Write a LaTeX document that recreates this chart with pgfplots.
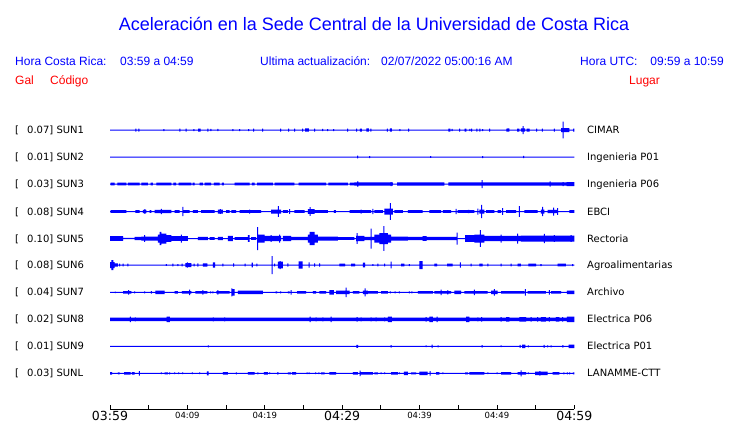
\documentclass[border=0pt]{standalone}
\usepackage{pgfplots}
\pgfplotsset{compat=1.18}
\usepgfplotslibrary{fillbetween}
\usepackage{pgfplotstable}
\usepackage{fontspec}
\setmainfont{Liberation Sans}
\newfontfamily\dejavu{DejaVu Sans}
\definecolor{sblue}{RGB}{0,0,255}
\definecolor{sred}{RGB}{255,0,0}

% half-amplitude envelopes (px) of each trace, t in minutes after 03:59
\pgfplotstableread[row sep=\\]{t a\\
0 0.5\\ 3.27 1.5\\ 3.40 0.5\\ 3.66 1.5\\ 3.79 0.5\\ 6.89 1.0\\ 7.02 0.5\\ 8.95 1.5\\ 9.08 0.5\\ 9.77 1.5\\ 9.90 0.5\\
10.76 1.0\\ 10.89 0.5\\ 11.40 1.5\\ 11.70 0.5\\ 12.57 1.5\\ 12.70 0.5\\ 12.96 1.2\\ 13.09 0.5\\ 13.86 1.2\\ 13.99 0.5\\
15.80 1.0\\ 15.93 0.5\\ 16.70 1.0\\ 16.83 0.5\\ 17.86 1.0\\ 17.99 0.5\\ 18.51 1.5\\ 18.64 0.5\\ 19.67 1.5\\ 19.80 0.5\\
21.99 1.5\\ 22.12 0.5\\ 23.03 1.5\\ 23.16 0.5\\ 23.80 1.5\\ 23.93 0.5\\ 24.83 1.5\\ 24.96 0.5\\ 25.22 1.7\\ 25.70 0.5\\
26.38 1.5\\ 26.51 0.5\\ 27.42 1.2\\ 27.55 0.5\\ 28.06 1.0\\ 28.19 0.5\\ 28.84 1.0\\ 28.97 0.5\\ 30.64 1.5\\ 30.77 0.5\\
31.81 1.5\\ 31.94 0.5\\ 32.28 1.5\\ 32.54 0.5\\ 33.14 1.7\\ 33.44 0.5\\ 33.66 1.5\\ 33.79 0.5\\ 35.77 1.5\\ 35.90 0.5\\
36.15 1.7\\ 36.41 0.5\\ 37.40 1.0\\ 37.53 0.5\\ 38.52 1.5\\ 38.65 0.5\\ 43.73 1.5\\ 43.99 0.5\\ 44.16 1.2\\ 44.29 0.5\\
45.11 1.5\\ 45.24 0.5\\ 45.84 1.5\\ 46.05 0.5\\ 46.44 1.2\\ 46.57 0.5\\ 46.66 1.5\\ 46.79 0.5\\ 47.34 1.5\\ 47.47 0.5\\
47.73 1.5\\ 47.86 0.5\\ 48.08 1.0\\ 48.21 0.5\\ 48.98 1.5\\ 49.11 0.5\\ 51.22 1.5\\ 51.35 1.7\\ 51.61 0.5\\
52.60 1.5\\ 52.90 0.5\\ 53.11 1.7\\ 53.31 4.0\\ 53.44 1.7\\ 53.63 0.5\\ 53.84 1.5\\ 54.23 0.5\\ 55.05 1.5\\ 55.18 0.5\\
55.82 1.5\\ 55.95 0.5\\ 57.37 1.5\\ 57.50 0.5\\ 58.28 2.0\\ 58.50 8.3\\ 58.63 2.0\\ 59.35 0.5\\ 59.85 1.5\\ 60 1.5\\
}\TA
\pgfplotstableread[row sep=\\]{t a\\
0 0.5\\ 31.94 1.3\\ 32.07 0.5\\ 33.49 1.0\\ 33.62 0.5\\ 41.36 0.8\\ 41.49 0.5\\ 48.08 1.0\\ 48.21 0.5\\ 53.37 1.2\\ 53.50 0.5\\ 60 0.5\\
}\TB
\pgfplotstableread[row sep=\\]{t a\\
0 0.5\\ 0.09 1.3\\ 0.60 0.5\\ 0.95 1.3\\ 2.11 0.5\\ 2.32 1.3\\ 3.83 0.5\\ 4.05 1.3\\ 4.91 0.5\\ 5.25 1.3\\ 5.55 0.5\\
5.98 1.3\\ 7.92 0.5\\ 8.18 1.3\\ 8.56 0.5\\ 8.87 1.3\\ 10.50 0.5\\ 10.67 1.3\\ 10.93 0.5\\ 11.58 1.3\\ 12.01 0.5\\
12.22 1.3\\ 13.08 0.5\\ 13.43 1.3\\ 14.16 0.5\\ 14.46 1.3\\ 14.72 0.5\\ 16.10 1.3\\ 18.03 0.5\\ 18.34 1.3\\ 18.68 0.5\\
19.02 1.3\\ 21.05 0.5\\ 21.26 1.3\\ 23.84 0.5\\ 24.36 1.3\\ 27.93 0.5\\ 28.23 1.3\\ 30.73 0.5\\ 30.99 1.3\\ 31.59 1.6\\
31.95 2.7\\ 32.08 1.6\\ 36.25 2.0\\ 36.38 1.6\\ 36.54 0.5\\ 37.11 1.6\\ 43.21 0.5\\ 43.73 1.6\\ 48.03 4.0\\ 48.16 1.6\\
56.81 2.7\\ 56.94 1.6\\ 58.50 2.0\\ 58.63 1.6\\ 59.00 2.0\\ 60 2.0\\
}\TC
\pgfplotstableread[row sep=\\]{t a\\
0 0.5\\ 0.09 1.3\\ 2.11 0.5\\ 3.27 1.3\\ 3.83 0.5\\ 4.26 1.7\\ 4.43 2.3\\ 4.56 1.7\\ 4.69 0.5\\ 5.12 1.3\\ 5.34 0.5\\
5.77 1.7\\ 6.57 2.7\\ 6.70 1.7\\ 7.92 0.5\\ 8.35 1.3\\ 9.00 0.5\\ 9.34 4.7\\ 9.47 1.3\\ 10.29 0.5\\ 10.72 1.3\\ 11.36 0.5\\
11.79 1.3\\ 13.51 0.5\\ 13.94 2.0\\ 14.20 2.3\\ 14.33 2.0\\ 14.59 0.5\\ 15.02 1.3\\ 15.45 0.5\\ 15.67 1.3\\ 16.31 0.5\\
16.74 1.3\\ 17.97 2.0\\ 18.10 1.3\\ 19.54 0.5\\ 20.83 2.0\\ 21.68 5.3\\ 21.81 2.0\\ 22.12 0.5\\ 22.34 1.3\\ 22.98 0.5\\
23.14 2.3\\ 23.27 0.5\\ 23.84 1.3\\ 25.14 0.5\\ 25.57 2.3\\ 25.81 4.3\\ 25.94 2.3\\ 26.43 1.3\\ 28.15 0.5\\
28.92 1.3\\ 29.18 0.5\\ 30.95 1.3\\ 32.39 2.0\\ 32.52 1.3\\ 33.74 0.5\\ 33.90 2.7\\ 34.03 0.5\\ 34.17 1.3\\ 35.25 0.5\\
35.47 3.0\\ 36.18 8.3\\ 36.31 3.0\\ 36.54 0.5\\ 36.76 1.3\\ 37.83 0.5\\ 38.48 1.3\\ 40.41 0.5\\ 41.28 1.3\\ 42.78 0.5\\
43.00 1.3\\ 44.07 0.5\\ 44.66 2.7\\ 44.79 0.5\\ 44.93 1.3\\ 46.24 1.7\\ 46.45 1.3\\ 47.09 0.5\\ 47.46 3.0\\ 47.59 0.5\\
47.73 2.0\\ 47.97 6.7\\ 48.10 2.0\\ 48.38 0.5\\ 48.59 1.3\\ 49.67 0.5\\ 50.10 1.3\\ 50.53 0.5\\ 50.68 3.3\\ 50.81 0.5\\
51.18 1.3\\ 52.47 0.5\\ 52.84 5.3\\ 52.97 0.5\\ 53.54 1.3\\ 55.26 0.5\\ 55.69 2.0\\ 55.85 4.7\\ 55.98 2.0\\ 56.12 0.5\\
56.55 1.7\\ 57.27 4.0\\ 57.40 1.7\\ 57.79 3.3\\ 57.92 0.5\\ 59.35 1.3\\ 60 1.3\\
}\TD
\pgfplotstableread[row sep=\\]{t a\\
0 2.3\\ 1.68 0.7\\ 3.18 1.7\\ 4.05 2.0\\ 4.42 3.3\\ 4.55 2.0\\ 6.20 4.0\\ 6.41 6.7\\ 6.63 5.0\\ 7.27 3.3\\
7.92 2.3\\ 9.15 4.0\\ 9.28 2.3\\ 10.07 0.5\\ 11.36 1.7\\ 12.65 0.5\\ 12.87 1.3\\ 13.51 0.5\\ 13.94 1.7\\ 14.59 0.5\\
15.24 2.7\\ 15.88 0.5\\ 16.10 1.3\\ 17.82 3.3\\ 18.03 0.5\\ 18.25 1.3\\ 18.89 0.5\\ 19.00 11.5\\ 19.13 4.0\\ 19.97 2.7\\
20.77 3.3\\ 20.90 2.7\\ 21.85 4.0\\ 21.98 2.7\\ 22.12 0.5\\ 22.34 2.7\\ 23.41 1.7\\ 25.57 4.0\\ 25.78 6.7\\ 26.43 4.0\\
26.86 2.0\\ 29.44 1.3\\ 31.59 0.5\\ 31.81 2.7\\ 31.88 5.3\\ 32.01 2.7\\ 32.88 1.7\\ 33.68 10.0\\ 33.81 1.7\\
34.17 4.0\\ 34.82 5.5\\ 35.32 12.3\\ 35.45 5.5\\ 35.90 4.0\\ 36.33 2.0\\ 38.48 1.7\\ 40.40 2.3\\ 40.90 1.7\\
44.79 6.0\\ 44.92 0.5\\ 45.88 3.3\\ 47.09 4.0\\ 47.80 8.3\\ 47.93 4.0\\ 48.38 2.7\\ 50.47 4.0\\ 50.60 2.7\\
52.62 5.0\\ 52.75 2.7\\ 53.11 3.0\\ 56.06 4.7\\ 56.19 3.0\\ 57.36 3.3\\ 57.49 3.0\\ 59.51 3.3\\ 59.64 3.0\\ 60 3.0\\
}\TE
\pgfplotstableread[row sep=\\]{t a\\
0 3.0\\ 0.17 5.0\\ 0.43 3.0\\ 0.60 1.7\\ 1.03 0.5\\ 1.19 1.3\\ 1.32 0.5\\ 1.62 1.3\\ 1.75 0.5\\ 2.26 1.3\\ 2.39 0.5\\
7.21 0.8\\ 7.34 0.5\\ 8.07 1.3\\ 8.20 0.5\\ 8.72 1.0\\ 8.85 0.5\\ 9.24 1.3\\ 9.37 0.5\\ 9.73 2.0\\ 9.93 2.7\\ 10.06 2.0\\ 10.50 0.5\\
10.79 1.3\\ 10.92 0.5\\ 11.30 1.7\\ 11.43 0.5\\ 12.01 1.7\\ 12.57 0.5\\ 13.30 2.7\\ 13.60 0.5\\ 14.53 1.3\\ 14.66 0.5\\
15.91 1.7\\ 16.04 0.5\\ 17.41 1.3\\ 17.54 0.5\\ 18.30 2.3\\ 18.46 0.5\\ 18.92 1.3\\ 19.05 0.5\\ 20.90 9.0\\ 21.03 0.5\\
21.20 1.3\\ 21.33 0.5\\ 21.69 3.3\\ 21.93 4.0\\ 22.06 3.3\\ 22.34 0.5\\ 22.92 1.7\\ 23.05 0.5\\ 24.36 3.7\\ 24.88 0.5\\
25.68 2.7\\ 25.81 0.5\\ 26.37 1.7\\ 26.50 0.5\\ 27.01 1.7\\ 27.14 0.5\\ 29.65 1.3\\ 30.39 0.5\\ 31.16 1.3\\ 31.68 0.5\\
32.67 2.3\\ 32.97 0.5\\ 33.90 0.8\\ 34.03 0.5\\ 34.54 1.3\\ 34.67 0.5\\ 35.41 1.3\\ 35.54 0.5\\ 36.27 3.3\\ 36.40 0.5\\
37.62 1.3\\ 38.05 0.5\\ 38.63 1.0\\ 38.76 0.5\\ 39.98 4.0\\ 40.41 0.5\\ 41.92 1.3\\ 42.26 0.5\\ 43.56 1.3\\ 44.29 0.5\\
45.22 2.7\\ 45.35 0.5\\ 46.60 1.3\\ 46.73 0.5\\ 47.73 1.3\\ 48.16 0.5\\ 48.75 1.3\\ 48.88 0.5\\ 50.47 1.3\\ 50.60 0.5\\
51.76 1.3\\ 51.89 0.5\\ 52.68 1.3\\ 53.11 0.5\\ 54.06 1.3\\ 55.05 0.5\\ 55.63 1.0\\ 55.76 0.5\\ 57.85 1.3\\ 58.92 0.5\\
59.72 1.0\\ 59.85 0.5\\ 60 0.5\\
}\TF
\pgfplotstableread[row sep=\\]{t a\\
0 0.5\\ 0.63 0.8\\ 0.76 0.5\\ 1.68 1.3\\ 2.35 2.3\\ 2.48 1.3\\ 2.75 0.5\\ 3.12 1.0\\ 3.25 0.5\\ 4.42 1.0\\ 4.55 0.5\\
5.28 1.3\\ 5.41 0.5\\ 5.85 1.7\\ 7.06 0.5\\ 8.35 1.3\\ 8.78 0.5\\ 9.30 1.3\\ 10.23 2.7\\ 10.36 1.3\\ 10.50 0.5\\
11.02 1.3\\ 11.95 2.3\\ 12.08 1.3\\ 12.57 0.5\\ 12.94 1.0\\ 13.07 0.5\\ 13.24 1.0\\ 13.37 0.5\\ 13.73 1.3\\ 13.88 2.3\\
14.01 1.3\\ 15.45 0.5\\ 15.67 3.3\\ 15.69 4.0\\ 15.82 3.3\\ 16.10 0.5\\ 16.53 1.7\\ 19.75 0.5\\ 21.39 1.0\\ 21.61 0.5\\
21.98 1.0\\ 22.11 0.5\\ 22.98 1.0\\ 23.20 0.5\\ 23.35 2.3\\ 23.48 0.5\\ 24.19 1.3\\ 25.35 0.5\\ 26.21 1.3\\ 26.64 0.5\\
27.07 1.3\\ 27.93 0.5\\ 28.36 2.3\\ 28.92 0.5\\ 29.22 1.7\\ 30.46 4.7\\ 30.59 1.7\\ 30.95 0.5\\ 31.38 1.3\\ 32.24 0.5\\
32.67 1.7\\ 32.91 4.0\\ 33.04 1.7\\ 33.31 1.3\\ 34.60 0.5\\ 35.04 1.3\\ 35.90 0.5\\ 36.18 1.0\\ 36.31 0.5\\
36.78 1.0\\ 36.91 0.5\\ 37.34 1.0\\ 37.47 0.5\\ 38.63 1.0\\ 38.76 0.5\\ 38.93 1.0\\ 39.06 0.5\\ 39.77 1.3\\ 41.71 0.5\\
41.92 1.3\\ 42.72 2.7\\ 42.85 1.3\\ 43.58 2.0\\ 43.71 1.3\\ 44.07 0.5\\ 44.50 1.7\\ 45.36 0.5\\ 45.79 1.3\\ 47.03 2.7\\
47.16 1.3\\ 48.81 0.5\\ 49.24 1.7\\ 49.61 3.3\\ 49.74 1.7\\ 50.10 0.5\\ 50.53 1.3\\ 53.54 0.5\\ 53.61 3.3\\ 53.74 0.5\\
53.97 1.3\\ 56.34 0.5\\ 56.71 2.3\\ 56.84 0.5\\ 56.99 1.3\\ 58.28 0.5\\ 59.05 1.7\\ 60 1.7\\
}\TG
\pgfplotstableread[row sep=\\]{t a\\
0 1.7\\ 2.57 2.7\\ 2.70 1.7\\ 3.21 2.0\\ 3.34 1.7\\ 7.32 2.7\\ 7.75 1.7\\ 13.28 2.0\\ 13.41 1.7\\ 14.75 2.0\\ 14.88 1.7\\
25.81 2.7\\ 25.94 1.7\\ 26.58 2.0\\ 26.71 1.7\\ 27.44 2.0\\ 27.57 1.7\\ 28.52 2.7\\ 28.65 1.7\\ 31.88 2.3\\ 32.01 1.7\\
32.39 2.0\\ 32.52 1.7\\ 33.68 2.0\\ 33.81 1.7\\ 34.33 2.0\\ 34.46 1.7\\ 35.41 2.0\\ 35.54 1.7\\ 35.90 2.7\\ 36.41 1.7\\
40.79 2.3\\ 40.92 1.7\\ 41.28 2.7\\ 41.71 1.7\\ 42.20 2.7\\ 42.33 1.7\\ 46.01 2.7\\ 46.44 1.7\\ 47.46 2.0\\ 47.59 1.7\\
47.97 2.3\\ 48.10 1.7\\ 50.47 2.3\\ 50.60 1.7\\ 51.18 2.3\\ 51.61 1.7\\ 52.90 2.3\\ 53.76 1.7\\ 54.34 2.3\\ 54.47 1.7\\
55.20 2.3\\ 55.33 1.7\\ 55.69 2.3\\ 56.34 1.7\\ 56.71 2.3\\ 56.84 1.7\\ 57.63 2.3\\ 58.06 1.7\\ 58.43 2.3\\ 58.56 1.7\\
59.05 2.7\\ 60 2.7\\
}\TH
\pgfplotstableread[row sep=\\]{t a\\
0 0.5\\ 12.64 1.0\\ 12.77 0.5\\ 31.85 1.5\\ 32.07 0.5\\ 36.27 1.3\\ 36.40 0.5\\ 40.79 0.9\\ 40.92 0.5\\ 41.56 1.7\\ 41.69 0.5\\
42.33 1.0\\ 42.46 0.5\\ 48.02 1.3\\ 48.15 0.5\\ 50.47 0.9\\ 50.60 0.5\\ 52.92 1.5\\ 53.05 0.5\\ 53.24 1.7\\ 53.67 0.5\\
54.00 1.0\\ 54.13 0.5\\ 56.02 1.5\\ 56.15 0.5\\ 56.49 1.0\\ 56.62 0.5\\ 56.93 1.0\\ 57.06 0.5\\ 58.47 1.3\\ 58.60 0.5\\
59.27 1.7\\ 60 1.7\\
}\TI
\pgfplotstableread[row sep=\\]{t a\\
0 1.3\\ 0.26 0.5\\ 1.03 1.0\\ 1.25 0.5\\ 1.81 1.3\\ 2.67 0.5\\ 2.84 1.3\\ 3.18 0.5\\ 3.73 2.3\\ 3.86 0.5\\
6.57 0.9\\ 6.70 0.5\\ 7.06 1.0\\ 7.49 0.5\\ 7.64 1.0\\ 7.77 0.5\\ 8.29 0.9\\ 8.42 0.5\\ 8.81 0.9\\ 8.94 0.5\\ 9.32 0.9\\ 9.45 0.5\\
10.57 0.9\\ 10.70 0.5\\ 11.52 0.9\\ 11.65 0.5\\ 12.52 2.0\\ 12.74 0.5\\ 14.59 1.3\\ 15.24 0.5\\ 16.25 1.0\\ 16.38 0.5\\
17.82 1.3\\ 18.68 0.5\\ 19.05 1.0\\ 19.18 0.5\\ 19.88 1.3\\ 20.40 0.5\\ 20.56 0.9\\ 20.69 0.5\\ 21.63 1.3\\ 21.76 0.5\\
22.98 1.0\\ 23.41 0.5\\ 23.54 1.3\\ 24.06 0.5\\ 25.42 0.9\\ 25.55 0.5\\ 25.68 0.9\\ 25.81 0.5\\ 26.50 0.9\\ 26.63 0.5\\
26.93 0.9\\ 27.06 0.5\\ 27.29 1.0\\ 27.72 0.5\\ 28.36 1.3\\ 29.22 0.5\\ 31.38 1.3\\ 32.02 0.5\\ 32.26 2.7\\ 32.39 1.3\\
33.96 0.5\\ 34.17 1.0\\ 34.60 0.5\\ 34.98 0.9\\ 35.11 0.5\\ 35.41 0.9\\ 35.54 0.5\\ 36.33 1.3\\ 37.19 0.5\\ 37.34 0.9\\
37.47 0.5\\ 37.96 1.7\\ 38.48 0.5\\ 38.91 1.0\\ 39.55 0.5\\ 39.98 1.7\\ 41.06 0.5\\ 41.30 2.3\\ 41.43 0.5\\ 42.14 1.3\\
42.57 0.5\\ 42.94 0.9\\ 43.07 0.5\\ 45.88 1.0\\ 46.23 0.5\\ 46.44 1.3\\ 48.38 0.5\\ 48.75 0.9\\ 48.88 0.5\\ 49.95 0.9\\
50.08 0.5\\ 50.53 1.3\\ 51.82 0.5\\ 52.68 1.3\\ 53.05 3.0\\ 53.18 1.3\\ 53.76 0.5\\ 54.00 0.9\\ 54.13 0.5\\ 54.92 1.7\\
55.50 2.3\\ 55.63 1.7\\ 56.55 0.5\\ 57.20 1.3\\ 58.06 0.5\\ 58.60 1.0\\ 58.73 0.5\\ 59.03 1.0\\ 59.16 0.5\\ 59.33 1.0\\
59.46 0.5\\ 59.82 1.0\\ 60 1.0\\
}\TJ

\newcommand{\trace}[3]{%
  \addplot[const plot, draw=none, name path=u#3] table[x=t, y expr={#2+\thisrow{a}}] {#1};
  \addplot[const plot, draw=none, name path=l#3] table[x=t, y expr={#2-\thisrow{a}}] {#1};
  \addplot[fill=sblue, draw=none] fill between[of=u#3 and l#3];
}
\newcommand{\bigtl}[1]{{\dejavu\fontsize{12.5bp}{12.5bp}\selectfont #1}}
\newcommand{\smalltl}[1]{{\dejavu\fontsize{8.5bp}{9bp}\selectfont #1}}
\newcommand{\hfont}{\fontsize{12bp}{14bp}\selectfont}
\newcommand{\lab}[4]{%
  \node[lab] at (15,#1-3.6) {[};
  \node[lab] at (27,#1-3.6) {#2] #3};
  \node[lab] at (587,#1-3.6) {#4};
}

\begin{document}
\begin{tikzpicture}[x=1bp,y=1bp,
  lab/.style={anchor=base west, inner sep=0pt, font=\dejavu\fontsize{10bp}{12bp}\selectfont},
  hd/.style={anchor=base west, inner sep=0pt, font=\hfont, text=sblue},
  rd/.style={anchor=base west, inner sep=0pt, font=\hfont, text=sred}]
\begin{axis}[
  at={(110bp,14bp)}, anchor=south west, scale only axis,
  width=464.3bp, height=290bp,
  xmin=0, xmax=60, ymin=14, ymax=304,
  axis x line*=bottom, axis y line=none, clip=false,
  axis line style={black, line width=0.8bp},
  tick style={black, line width=0.8bp},
  tick align=inside, major tick length=4.5bp,
  xtick={0,5,...,60}, ytick=\empty,
  xticklabels={\bigtl{03:59},{},\smalltl{04:09},{},\smalltl{04:19},{},\bigtl{04:29},{},\smalltl{04:39},{},\smalltl{04:49},{},\bigtl{04:59}},
  xticklabel style={anchor=north, inner sep=0pt, yshift=-2.5bp},
]
\trace{\TA}{293}{A}
\trace{\TB}{266}{B}
\trace{\TC}{239}{C}
\trace{\TD}{211.5}{D}
\trace{\TE}{184.5}{E}
\trace{\TF}{158}{F}
\trace{\TG}{130.7}{G}
\trace{\TH}{103.7}{H}
\trace{\TI}{76.7}{I}
\trace{\TJ}{49.7}{J}
\end{axis}
\node[anchor=center, text=sblue, inner sep=0pt, font=\fontsize{18bp}{20bp}\selectfont] at (374,399.5) {Aceleración en la Sede Central de la Universidad de Costa Rica};
\node[hd] at (15,357.8) {Hora Costa Rica:};
\node[hd] at (120,357.8) {03:59 a 04:59};
\node[hd] at (260,357.8) {Ultima actualización:};
\node[hd] at (381,357.8) {02/07/2022 05:00:16 AM};
\node[hd] at (580,357.8) {Hora UTC:};
\node[hd, anchor=base east] at (724,357.8) {09:59 a 10:59};
\node[rd] at (15,338.2) {Gal};
\node[rd] at (50,338.2) {Código};
\node[rd] at (629,338.2) {Lugar};
\lab{293}{0.07}{SUN1}{CIMAR}
\lab{266}{0.01}{SUN2}{Ingenieria P01}
\lab{239}{0.03}{SUN3}{Ingenieria P06}
\lab{211.5}{0.08}{SUN4}{EBCI}
\lab{184.5}{0.10}{SUN5}{Rectoria}
\lab{158}{0.08}{SUN6}{Agroalimentarias}
\lab{130.7}{0.04}{SUN7}{Archivo}
\lab{103.7}{0.02}{SUN8}{Electrica P06}
\lab{76.7}{0.01}{SUN9}{Electrica P01}
\lab{49.7}{0.03}{SUNL}{LANAMME-CTT}
\pgfresetboundingbox
\path[use as bounding box] (0,0) rectangle (740,423);
\end{tikzpicture}
\end{document}
